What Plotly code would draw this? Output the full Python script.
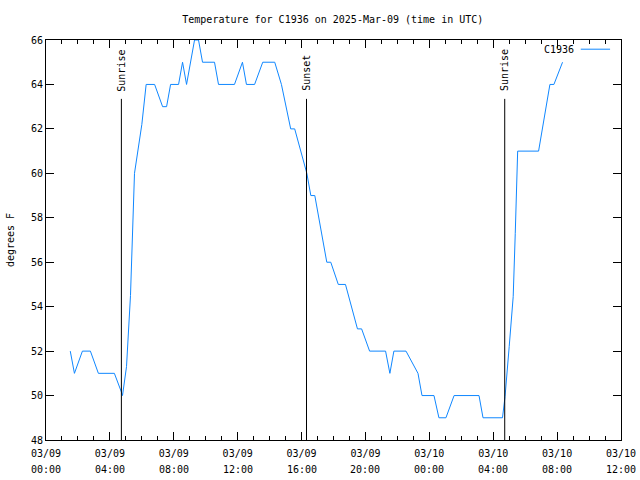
import plotly.graph_objects as go
from datetime import datetime, timedelta

# ---- data ----
series_name = "C1936"
base = "2025-03-09 00:00"
hours = [1.52, 1.78, 2.28, 2.78, 3.28, 4.28, 4.70, 4.79, 5.04, 5.17, 5.29, 5.54, 6.00, 6.27,
         6.80, 7.30, 7.55, 7.80, 8.30, 8.55, 8.80, 9.30, 9.55, 9.80, 10.55, 10.80, 11.80,
         12.30, 12.55, 13.06, 13.57, 14.32, 14.74, 15.32, 15.57, 16.33, 16.58, 16.83,
         17.58, 17.83, 18.30, 18.75, 19.50, 19.76, 20.26, 21.26, 21.53, 21.78, 22.54,
         23.29, 23.54, 24.29, 24.60, 25.04, 25.55, 27.11, 27.36, 28.58, 28.74, 29.00,
         29.25, 29.38, 29.50, 29.53, 30.84, 31.55, 31.80, 32.34]
temps = [52, 51, 52, 52, 51, 51, 50.2, 50.0, 51.3, 53, 54.5, 60, 62.2, 64,
         64, 63, 63, 64, 64, 65, 64, 66, 66, 65, 65, 64, 64,
         65, 64, 64, 65, 65, 64, 62, 62, 60, 59, 59,
         56, 56, 55, 55, 53, 53, 52, 52, 51, 52, 52,
         51, 50, 50, 49, 49, 50, 50, 49, 49, 49.95, 52.2,
         54.45, 57.3, 60.3, 61, 61, 64, 64, 65]
event_names = ["Sunrise", "Sunset", "Sunrise"]
event_hours = [4.72, 16.31, 28.72]
tick_hours = [0, 4, 8, 12, 16, 20, 24, 28, 32, 36]
y_range = [48, 66]
title = "Temperature for C1936 on 2025-Mar-09 (time in UTC)"
y_title = "degrees F"

t0 = datetime.strptime(base, "%Y-%m-%d %H:%M")
xs = [t0 + timedelta(hours=h) for h in hours]
ev_x = [t0 + timedelta(hours=h) for h in event_hours]
tick_x = [t0 + timedelta(hours=h) for h in tick_hours]
tick_dates = [d.strftime("%m/%d") for d in tick_x]
tick_times = [d.strftime("%H:%M") for d in tick_x]

FONT = "DejaVu Sans Mono"
LINE_COLOR = "#0f87ff"

fig = go.Figure()
fig.add_trace(go.Scatter(x=xs, y=temps, mode="lines", name=series_name,
                         line=dict(color=LINE_COLOR, width=1), showlegend=False))

for name, ex in zip(event_names, ev_x):
    fig.add_shape(type="line", xref="x", yref="y", x0=ex, x1=ex, y0=y_range[0], y1=63.35,
                  line=dict(color="black", width=1))
    fig.add_annotation(x=ex, y=63.6, xref="x", yref="y", text=name, showarrow=False,
                       textangle=-90, yanchor="bottom", xanchor="center",
                       font=dict(family=FONT, size=10, color="black"))

# second line of the x tick labels (time of day)
for tx, tt in zip(tick_x, tick_times):
    fig.add_annotation(x=tx, y=0, xref="x", yref="paper", text=tt, showarrow=False,
                       yanchor="middle", xanchor="center", yshift=-29,
                       font=dict(family=FONT, size=10, color="black"))

# legend (gnuplot style: text then sample)
fig.add_annotation(x=0.921, y=0.977, xref="paper", yref="paper", text=series_name,
                   showarrow=False, xanchor="right", yanchor="middle",
                   font=dict(family=FONT, size=10, color="black"))
fig.add_shape(type="line", xref="paper", yref="paper", x0=0.930, x1=0.981, y0=0.977, y1=0.977,
              line=dict(color=LINE_COLOR, width=1))

fig.update_layout(
    width=640, height=480,
    margin=dict(l=46, r=19, t=40, b=40),
    paper_bgcolor="white", plot_bgcolor="white",
    title=dict(text=title, x=0.52, xanchor="center", y=0.96, yanchor="middle",
               font=dict(family=FONT, size=10, color="black")),
    font=dict(family=FONT, size=10, color="black"),
    showlegend=False,
)
fig.update_xaxes(range=[tick_x[0], tick_x[-1]], tickmode="array", tickvals=tick_x,
                 ticktext=tick_dates, ticks="inside", ticklen=8, tickcolor="black",
                 showline=True, linecolor="black", linewidth=1, mirror="allticks",
                 showgrid=False, zeroline=False, automargin=False, ticklabelstandoff=4,
                 minor=dict(ticks="inside", ticklen=4, dtick=3600000, tickcolor="black",
                            showgrid=False),
                 tickfont=dict(family=FONT, size=10))
fig.update_yaxes(range=y_range, dtick=2, ticks="inside", ticklen=8, tickcolor="black",
                 showline=True, linecolor="black", linewidth=1, mirror="allticks",
                 showgrid=False, zeroline=False, automargin=False,
                 title=dict(text=y_title, standoff=14, font=dict(family=FONT, size=10)),
                 tickfont=dict(family=FONT, size=10))

fig.write_html("out.html")
